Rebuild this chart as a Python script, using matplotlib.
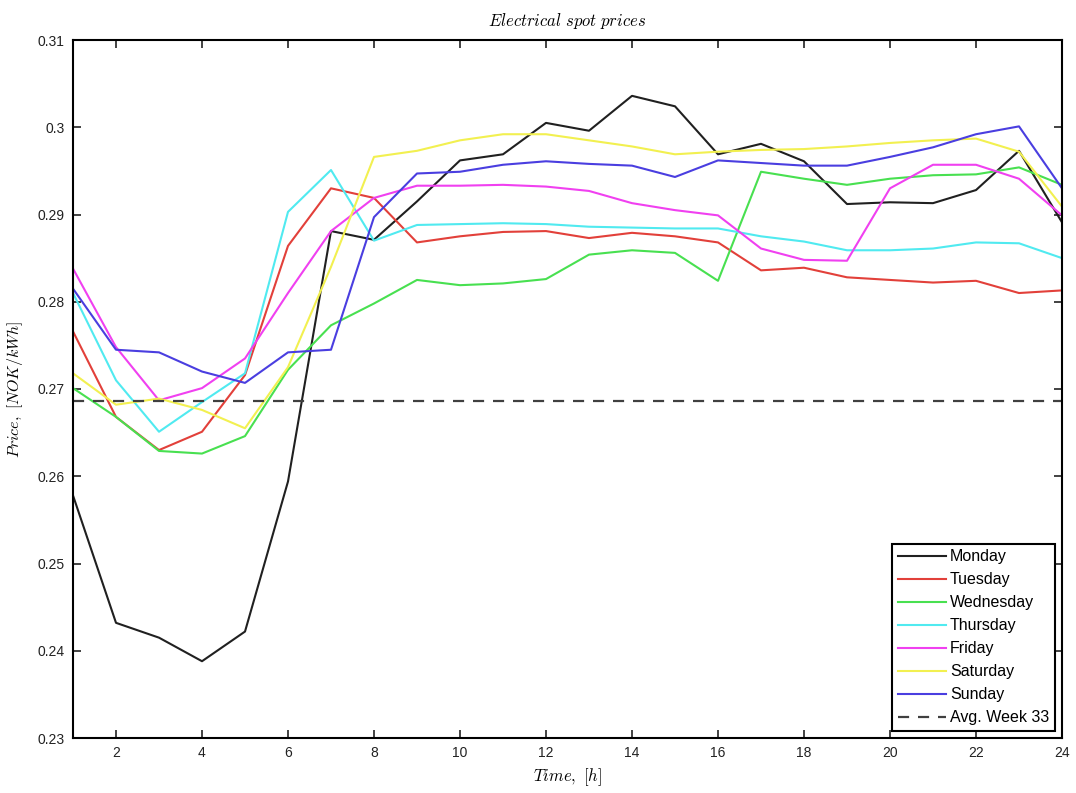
import matplotlib
matplotlib.use("Agg")
import matplotlib.pyplot as plt

plt.rcParams["mathtext.fontset"] = "cm"
plt.rcParams["font.family"] = ["Liberation Sans", "DejaVu Sans"]

hours = list(range(1, 25))

monday = [0.2578, 0.2432, 0.2415, 0.2388, 0.2422, 0.2594, 0.2881, 0.2871,
          0.2915, 0.2962, 0.2969, 0.3005, 0.2996, 0.3036, 0.3024, 0.2969,
          0.2981, 0.2961, 0.2912, 0.2914, 0.2913, 0.2928, 0.2973, 0.2891]
tuesday = [0.2766, 0.2668, 0.2630, 0.2651, 0.2716, 0.2864, 0.2930, 0.2919,
           0.2868, 0.2875, 0.2880, 0.2881, 0.2873, 0.2879, 0.2875, 0.2868,
           0.2836, 0.2839, 0.2828, 0.2825, 0.2822, 0.2824, 0.2810, 0.2813]
wednesday = [0.2701, 0.2668, 0.2629, 0.2626, 0.2646, 0.2722, 0.2773, 0.2798,
             0.2825, 0.2819, 0.2821, 0.2826, 0.2854, 0.2859, 0.2856, 0.2824,
             0.2949, 0.2941, 0.2934, 0.2941, 0.2945, 0.2946, 0.2954, 0.2934]
thursday = [0.2810, 0.2710, 0.2651, 0.2685, 0.2718, 0.2903, 0.2951, 0.2870,
            0.2888, 0.2889, 0.2890, 0.2889, 0.2886, 0.2885, 0.2884, 0.2884,
            0.2875, 0.2869, 0.2859, 0.2859, 0.2861, 0.2868, 0.2867, 0.2850]
friday = [0.2838, 0.2748, 0.2687, 0.2701, 0.2735, 0.2810, 0.2881, 0.2919,
          0.2933, 0.2933, 0.2934, 0.2932, 0.2927, 0.2913, 0.2905, 0.2899,
          0.2861, 0.2848, 0.2847, 0.2930, 0.2957, 0.2957, 0.2941, 0.2899]
saturday = [0.2718, 0.2682, 0.2689, 0.2676, 0.2655, 0.2725, 0.2840, 0.2966,
            0.2973, 0.2985, 0.2992, 0.2992, 0.2985, 0.2978, 0.2969, 0.2972,
            0.2974, 0.2975, 0.2978, 0.2982, 0.2985, 0.2987, 0.2972, 0.2909]
sunday = [0.2815, 0.2745, 0.2742, 0.2720, 0.2707, 0.2742, 0.2745, 0.2897,
          0.2947, 0.2949, 0.2957, 0.2961, 0.2958, 0.2956, 0.2943, 0.2962,
          0.2959, 0.2956, 0.2956, 0.2966, 0.2977, 0.2992, 0.3001, 0.2930]
week_avg = 0.2686

series = [
    ("Monday", monday, "#202020"),
    ("Tuesday", tuesday, "#e2403a"),
    ("Wednesday", wednesday, "#48e050"),
    ("Thursday", thursday, "#50eaf0"),
    ("Friday", friday, "#f040f0"),
    ("Saturday", saturday, "#f2f050"),
    ("Sunday", sunday, "#4a3ee0"),
]

x_ticks = list(range(2, 25, 2))
y_ticks = [0.23, 0.24, 0.25, 0.26, 0.27, 0.28, 0.29, 0.30, 0.31]
y_tick_labels = ["0.23", "0.24", "0.25", "0.26", "0.27", "0.28", "0.29", "0.3", "0.31"]

fig = plt.figure(figsize=(10.76, 7.93), dpi=100)
ax = fig.add_axes([73 / 1076, 1 - 738 / 793, (1062 - 73) / 1076, (738 - 40) / 793])

for name, values, color in series:
    ax.plot(hours, values, color=color, lw=1.5, label=name)
ax.plot([hours[0], hours[-1]], [week_avg, week_avg], color="#404040",
        lw=1.6, ls=(0, (5, 4)), label="Avg. Week 33")

ax.set_xlim(1, 24)
ax.set_ylim(0.23, 0.31)
ax.set_xticks(x_ticks)
ax.set_yticks(y_ticks)
ax.set_yticklabels(y_tick_labels)
ax.tick_params(direction="in", top=True, right=True, length=6, width=1.2,
               labelsize=10, colors="#222222", pad=6)
for s in ax.spines.values():
    s.set_linewidth(1.5)

ax.set_title(r"$Electrical\ spot\ prices$", fontsize=12, pad=10)
ax.set_xlabel(r"$Time,\ [h]$", fontsize=12, labelpad=4)
ax.set_ylabel(r"$Price,\ [NOK/kWh]$", fontsize=11.5, labelpad=9)

leg = ax.legend(loc="lower right", fontsize=11.5, frameon=True, fancybox=False,
                edgecolor="black", framealpha=1, borderpad=0.35, labelspacing=0.5,
                handlelength=3.0, handletextpad=0.25, borderaxespad=0.45)
leg.get_frame().set_linewidth(1.5)

fig.savefig("out.png", dpi=100, facecolor="white")
